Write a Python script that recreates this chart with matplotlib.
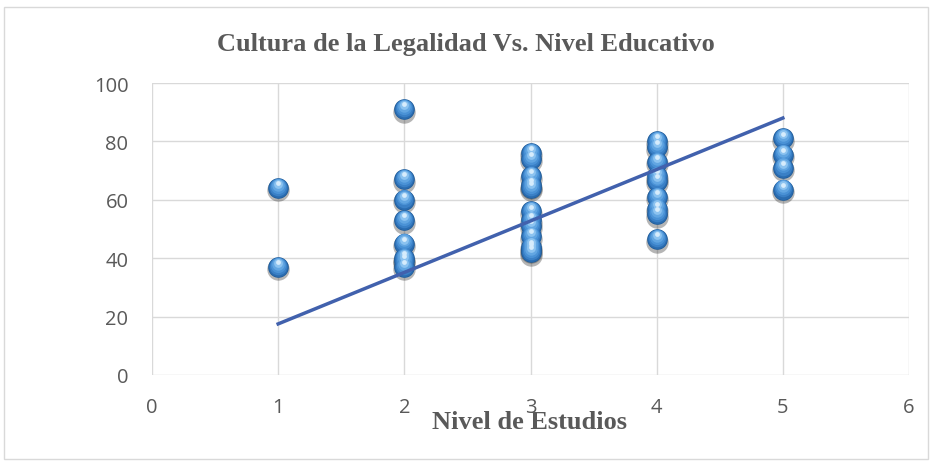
import matplotlib

matplotlib.use("Agg")
import matplotlib.pyplot as plt
from matplotlib.patches import Rectangle

# values
nivel_1 = [64, 37]
nivel_2 = [91, 67, 60, 53, 45, 40, 39, 37]
nivel_3 = [76, 74, 68, 65, 64, 56, 53, 51, 47.5, 44, 43, 42]
nivel_4 = [80, 78, 73, 68, 66.5, 61, 57, 55, 46.5]
nivel_5 = [81, 75.5, 71, 63.5]
groups = [nivel_1, nivel_2, nivel_3, nivel_4, nivel_5]

trend_x = [1, 5]
trend_y = [17.5, 88]

x_ticks = [0, 1, 2, 3, 4, 5, 6]
y_ticks = [0, 20, 40, 60, 80, 100]

xs, ys = [], []
for lvl, vals in enumerate(groups, start=1):
    xs += [lvl] * len(vals)
    ys += vals

fig = plt.figure(figsize=(9.32, 4.64), dpi=100)
fig.patches.append(Rectangle((0.004, 0.008), 0.992, 0.975, transform=fig.transFigure,
                             fill=False, edgecolor="#d9d9d9", linewidth=1.0))
ax = fig.add_axes([152 / 932, 1 - 376 / 464, (909 - 152) / 932, (376 - 84) / 464])

ax.set_xlim(0, 6)
ax.set_ylim(0, 100)
ax.set_xticks(x_ticks)
ax.set_yticks(y_ticks)
ax.grid(True, color="#d9d9d9", linewidth=1.0)
ax.set_axisbelow(True)
for s in ax.spines.values():
    s.set_visible(False)
ax.tick_params(length=0, labelsize=14.5, labelcolor="#595959")
ax.tick_params(axis="x", pad=16)
ax.tick_params(axis="y", pad=17)
for lab in ax.get_xticklabels() + ax.get_yticklabels():
    lab.set_fontfamily("Open Sans")

# sphere-like markers: shadow, body, then lighter layers toward the top
ax.scatter(xs, [y - 0.8 for y in ys], s=260, color="#2b2b2b", alpha=0.35, linewidths=0, zorder=2)
ax.scatter(xs, ys, s=220, color="#1f5c99", linewidths=0, zorder=3)
layers = [(190, "#2a6cb0", 0.0), (160, "#3a80c6", 0.4), (120, "#4a92d6", 0.8),
          (80, "#62a6e2", 1.1), (40, "#8cc3f0", 1.4), (12, "#d6ecfc", 1.7)]
for size, col, dy in layers:
    ax.scatter(xs, [y + dy for y in ys], s=size, color=col, linewidths=0, zorder=3)

ax.plot(trend_x, trend_y, color="#4161ad", linewidth=2.5, zorder=4)

fig.text(0.5, 1 - 45 / 464, "Cultura de la Legalidad Vs. Nivel Educativo", ha="center", va="center",
         fontfamily="Liberation Serif", fontweight="bold", fontsize=19, color="#595959")
fig.text(530 / 932, 1 - 423 / 464, "Nivel de Estudios", ha="center", va="center",
         fontfamily="Liberation Serif", fontweight="bold", fontsize=19, color="#595959", zorder=5)

fig.savefig("out.png", dpi=100)
